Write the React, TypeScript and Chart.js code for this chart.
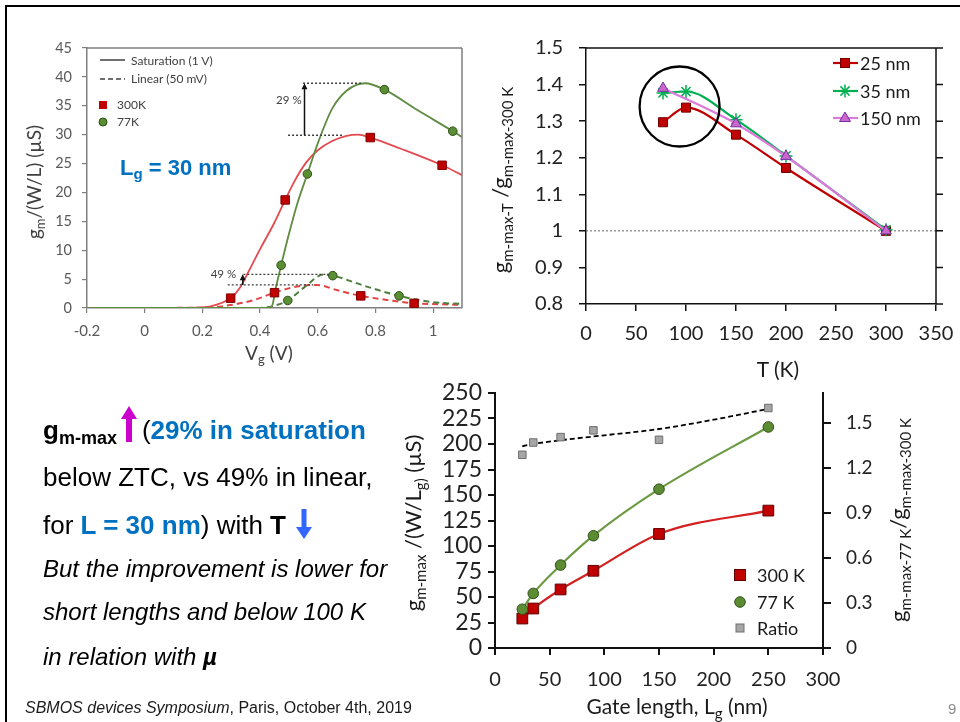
import React, { useEffect, useRef } from "react";
import { Chart, registerables } from "chart.js";

Chart.register(...registerables);
Chart.defaults.font.family = "Lato, 'Open Sans', sans-serif";

// ===== Panel A: gm/(W/L) vs Vg, Lg = 30 nm =====
const vgSat300 = [-0.2, 0.1, 0.2, 0.25, 0.3, 0.33, 0.36, 0.4, 0.45, 0.487, 0.52, 0.56, 0.6, 0.65, 0.7, 0.74, 0.782, 0.886, 1.031, 1.1];
const gmSat300 = [0, 0, 0.1, 0.6, 1.8, 3.5, 6.3, 10.2, 14.8, 18.7, 22.0, 25.2, 27.3, 28.9, 29.8, 30.0, 29.5, 27.6, 24.7, 23];
const vgSat77 = [-0.2, 0.42, 0.44, 0.455, 0.473, 0.5, 0.53, 0.564, 0.6, 0.65, 0.7, 0.764, 0.831, 0.944, 1.068, 1.1];
const gmSat77 = [0, 0, 0.2, 3.6, 7.4, 12.8, 18.2, 23.2, 28.5, 34.5, 37.6, 38.9, 37.8, 34.3, 30.6, 29.6];
const vgLin300 = [-0.2, 0.2, 0.296, 0.38, 0.45, 0.516, 0.597, 0.666, 0.749, 0.84, 0.934, 1.02, 1.1];
const gmLin300 = [0, 0.05, 0.5, 1.4, 2.65, 3.6, 4.0, 3.1, 2.1, 1.4, 0.8, 0.65, 0.55];
const vgLin77 = [-0.2, 0.39, 0.45, 0.496, 0.556, 0.62, 0.652, 0.77, 0.882, 1.0, 1.1];
const gmLin77 = [0, 0, 0.4, 1.3, 3.7, 5.8, 5.6, 3.7, 2.1, 1.0, 0.7];
const vgMark300 = [0.298, 0.487, 0.782, 1.031, 0.45, 0.749, 0.934];
const gmMark300 = [1.7, 18.7, 29.5, 24.7, 2.65, 2.1, 0.8];
const vgMark77 = [0.473, 0.564, 0.831, 1.068, 0.496, 0.652, 0.882];
const gmMark77 = [7.4, 23.2, 37.8, 30.6, 1.3, 5.6, 2.1];

// ===== Panel B: gm-max(T)/gm-max(300 K) vs T =====
const tempK = [77, 100, 150, 200, 300];
const ratio25 = [1.297, 1.337, 1.263, 1.172, 1.0];
const ratio35 = [1.377, 1.381, 1.304, 1.205, 1.003];
const temp150 = [77, 150, 200, 300];
const ratio150 = [1.39, 1.293, 1.204, 1.0];

// ===== Panel C: gm-max/(W/Lg) vs gate length =====
const gateLen = [25, 35, 60, 90, 150, 250];
const gm300 = [28.9, 38.7, 57.4, 75.7, 111.8, 134.7];
const gm77 = [38, 53.5, 81.3, 110.1, 155.7, 216.7];
const ratio77300 = [1.288, 1.37, 1.406, 1.451, 1.388, 1.6];
const trendLen = [25, 35, 60, 90, 150, 200, 250];
const trendRatio = [1.345, 1.36, 1.385, 1.41, 1.46, 1.522, 1.594];

const LATO = "Lato, 'Open Sans', sans-serif";
const ARIAL = "'Liberation Sans', Arial, sans-serif";
const BLUE = "#0070C0";

const pts = (xs: number[], ys: number[]) => xs.map((x, i) => ({ x, y: ys[i] }));
const fmt1 = (v: any) => String(Math.round(Number(v) * 10) / 10);
const fixW = (w: number) => (s: any) => { s.width = w; s.paddingTop = 0; s.paddingBottom = 0; s.paddingLeft = 0; s.paddingRight = 0; };
const fixH = (h: number) => (s: any) => { s.height = h; s.paddingTop = 0; s.paddingBottom = 0; s.paddingLeft = 0; s.paddingRight = 0; };

const framePlugin = {
  id: "frame",
  afterDatasetsDraw(chart: any, _a: any, o: any) {
    const { ctx, chartArea: a } = chart;
    ctx.save();
    ctx.strokeStyle = o.color;
    ctx.lineWidth = o.width;
    ctx.setLineDash([]);
    ctx.beginPath();
    if (o.top) { ctx.moveTo(a.left, a.top); ctx.lineTo(a.right, a.top); }
    if (o.right) { ctx.moveTo(a.right, a.top); ctx.lineTo(a.right, a.bottom); }
    if (o.rightTicks) {
      const ys = chart.scales.y;
      ys.ticks.forEach((t: any) => {
        const py = ys.getPixelForValue(t.value);
        ctx.moveTo(a.right, py);
        ctx.lineTo(a.right + o.rightTicks, py);
      });
    }
    ctx.stroke();
    ctx.restore();
  },
};

// annotation of the 29 % / 49 % gains (data units)
const gainMarks = [
  { lowV: 29.9, highV: 38.9, lowFrom: 0.497, lowTo: 0.688, highFrom: 0.549, highTo: 0.757, arrowVg: 0.554, text: "29 %", textVg: 0.544, textV: 35.9 },
  { lowV: 4.0, highV: 5.83, lowFrom: 0.288, lowTo: 0.585, highFrom: 0.342, highTo: 0.643, arrowVg: 0.34, text: "49 %", textVg: 0.317, textV: 5.9 },
];

const gainPlugin = {
  id: "gain",
  afterDatasetsDraw(chart: any) {
    const { ctx } = chart;
    const x = chart.scales.x, y = chart.scales.y;
    ctx.save();
    gainMarks.forEach((m) => {
      ctx.strokeStyle = "#404040";
      ctx.lineWidth = 1.3;
      ctx.setLineDash([2, 2]);
      ctx.beginPath();
      ctx.moveTo(x.getPixelForValue(m.lowFrom), y.getPixelForValue(m.lowV));
      ctx.lineTo(x.getPixelForValue(m.lowTo), y.getPixelForValue(m.lowV));
      ctx.moveTo(x.getPixelForValue(m.highFrom), y.getPixelForValue(m.highV));
      ctx.lineTo(x.getPixelForValue(m.highTo), y.getPixelForValue(m.highV));
      ctx.stroke();
      ctx.setLineDash([]);
      const ax = x.getPixelForValue(m.arrowVg);
      const y0 = y.getPixelForValue(m.lowV);
      const y1 = y.getPixelForValue(m.highV);
      ctx.strokeStyle = "#111";
      ctx.lineWidth = 1.5;
      ctx.beginPath();
      ctx.moveTo(ax, y0);
      ctx.lineTo(ax, y1 + 4);
      ctx.stroke();
      ctx.fillStyle = "#111";
      ctx.beginPath();
      ctx.moveTo(ax, y1);
      ctx.lineTo(ax - 3, y1 + 6);
      ctx.lineTo(ax + 3, y1 + 6);
      ctx.closePath();
      ctx.fill();
      ctx.font = "11.5px Lato";
      ctx.fillStyle = "#404040";
      ctx.textAlign = "right";
      ctx.textBaseline = "middle";
      ctx.fillText(m.text, x.getPixelForValue(m.textVg), y.getPixelForValue(m.textV));
    });
    ctx.restore();
  },
};

const refRatio = 1;
const highlight = { t: 93.6, r: 1.34, radius: 40 };

const ratioPlugin = {
  id: "ratioMarks",
  beforeDatasetsDraw(chart: any) {
    const { ctx, chartArea: a } = chart;
    const py = chart.scales.y.getPixelForValue(refRatio);
    ctx.save();
    ctx.strokeStyle = "#666";
    ctx.lineWidth = 1;
    ctx.setLineDash([2, 2]);
    ctx.beginPath();
    ctx.moveTo(a.left, py);
    ctx.lineTo(a.right, py);
    ctx.stroke();
    ctx.restore();
  },
  afterDatasetsDraw(chart: any) {
    const { ctx } = chart;
    const cx = chart.scales.x.getPixelForValue(highlight.t);
    const cy = chart.scales.y.getPixelForValue(highlight.r);
    ctx.save();
    ctx.strokeStyle = "#000";
    ctx.lineWidth = 2.3;
    ctx.beginPath();
    ctx.arc(cx, cy, highlight.radius, 0, Math.PI * 2);
    ctx.stroke();
    ctx.restore();
  },
};

const noPlug = { legend: { display: false }, tooltip: { enabled: false } };

function configA(): any {
  const line = { showLine: true, pointRadius: 0, tension: 0.4, cubicInterpolationMode: "monotone" };
  return {
    type: "scatter",
    data: {
      datasets: [
        { data: pts(vgMark77, gmMark77), showLine: false, pointStyle: "circle", pointRadius: 4.3, pointBackgroundColor: "#5A8E32", pointBorderColor: "#2E5018", pointBorderWidth: 1 },
        { data: pts(vgMark300, gmMark300), showLine: false, pointStyle: "rect", pointRadius: 6, pointBackgroundColor: "#C00000", pointBorderColor: "#800000", pointBorderWidth: 1 },
        { ...line, data: pts(vgSat77, gmSat77), borderColor: "#5E8C40", borderWidth: 1.8 },
        { ...line, data: pts(vgSat300, gmSat300), borderColor: "#E34A4F", borderWidth: 1.8 },
        { ...line, data: pts(vgLin77, gmLin77), borderColor: "#4E7E3C", borderWidth: 2, borderDash: [6, 4] },
        { ...line, data: pts(vgLin300, gmLin300), borderColor: "#E04545", borderWidth: 2, borderDash: [6, 4] },
      ],
    },
    options: {
      responsive: false,
      animation: false,
      layout: { padding: { top: 18, right: 13, left: 0, bottom: 0 } },
      plugins: { ...noPlug, frame: { color: "#7F7F7F", width: 1.5, top: true, right: true } },
      scales: {
        x: {
          type: "linear", min: -0.2, max: 1.1,
          afterFit: fixH(42),
          border: { color: "#7F7F7F", width: 1.5 },
          grid: { drawOnChartArea: false, tickLength: 5, color: "#7F7F7F", lineWidth: 1.2 },
          ticks: { stepSize: 0.2, includeBounds: false, color: "#595959", font: { size: 15 }, padding: 9, maxRotation: 0, autoSkip: false, callback: fmt1 },
        },
        y: {
          min: 0, max: 45,
          afterFit: fixW(77),
          border: { color: "#7F7F7F", width: 1.5 },
          grid: { drawOnChartArea: false, tickLength: 5, color: "#7F7F7F", lineWidth: 1.2 },
          ticks: { stepSize: 5, color: "#595959", font: { size: 14.5 }, padding: 10 },
        },
      },
    },
    plugins: [framePlugin, gainPlugin],
  };
}

function configB(): any {
  const base = { showLine: true, tension: 0.4, cubicInterpolationMode: "monotone", borderWidth: 2.2, pointBorderWidth: 1 };
  return {
    type: "scatter",
    data: {
      datasets: [
        { ...base, data: pts(temp150, ratio150), borderColor: "#DA7ADA", pointStyle: "triangle", pointRadius: 6.2, pointBackgroundColor: "#CC66CC", pointBorderColor: "#7030A0" },
        { ...base, data: pts(tempK, ratio35), borderColor: "#00B050", pointStyle: "star", pointRadius: 6.5, pointBackgroundColor: "#00B050", pointBorderColor: "#00B050", pointBorderWidth: 1.5 },
        { ...base, data: pts(tempK, ratio25), borderColor: "#C00000", pointStyle: "rect", pointRadius: 6.4, pointBackgroundColor: "#C00000", pointBorderColor: "#700000" },
      ],
    },
    options: {
      responsive: false,
      animation: false,
      layout: { padding: { top: 18, right: 20, left: 0, bottom: 0 } },
      plugins: { ...noPlug, frame: { color: "#111", width: 1.5, top: true, right: true, rightTicks: 7 } },
      scales: {
        x: {
          type: "linear", min: 0, max: 350,
          afterFit: fixH(56),
          border: { color: "#111", width: 1.5 },
          grid: { drawOnChartArea: false, tickLength: 7, color: "#111", lineWidth: 1.5 },
          ticks: { stepSize: 50, color: "#222", font: { size: 20 }, padding: 11, maxRotation: 0, autoSkip: false },
        },
        y: {
          min: 0.8, max: 1.5,
          afterFit: fixW(106),
          border: { color: "#111", width: 1.5 },
          grid: { drawOnChartArea: false, tickLength: 7, color: "#111", lineWidth: 1.5 },
          ticks: { stepSize: 0.1, color: "#222", font: { size: 20 }, padding: 16, callback: fmt1 },
        },
      },
    },
    plugins: [framePlugin, ratioPlugin],
  };
}

function configC(): any {
  const base = { showLine: true, tension: 0.4, cubicInterpolationMode: "monotone", borderWidth: 2.2, pointBorderWidth: 1 };
  return {
    type: "scatter",
    data: {
      datasets: [
        { data: pts(gateLen, ratio77300), yAxisID: "y2", showLine: false, pointStyle: "rect", pointRadius: 5.3, pointBackgroundColor: "#A6A6A6", pointBorderColor: "#6E6E6E", pointBorderWidth: 1 },
        { ...base, data: pts(gateLen, gm77), borderColor: "#6B9A42", pointStyle: "circle", pointRadius: 5.3, pointBackgroundColor: "#5B8C32", pointBorderColor: "#2F4F1A" },
        { ...base, data: pts(gateLen, gm300), borderColor: "#D42020", pointStyle: "rect", pointRadius: 7.6, pointBackgroundColor: "#C00000", pointBorderColor: "#600000" },
        { data: pts(trendLen, trendRatio), yAxisID: "y2", showLine: true, pointRadius: 0, tension: 0.4, cubicInterpolationMode: "monotone", borderColor: "#000", borderWidth: 1.8, borderDash: [5, 3] },
      ],
    },
    options: {
      responsive: false,
      animation: false,
      layout: { padding: { top: 13, right: 0, left: 0, bottom: 0 } },
      plugins: { ...noPlug },
      scales: {
        x: {
          type: "linear", min: 0, max: 300,
          afterFit: fixH(72),
          border: { color: "#111", width: 2 },
          grid: { drawOnChartArea: false, tickLength: 7, color: "#111", lineWidth: 2 },
          ticks: { stepSize: 50, color: "#222", font: { size: 20 }, padding: 13, maxRotation: 0, autoSkip: false },
        },
        y: {
          min: 0, max: 250,
          afterFit: fixW(100),
          border: { color: "#111", width: 2 },
          grid: { drawOnChartArea: false, tickLength: 7, color: "#111", lineWidth: 2 },
          ticks: { stepSize: 25, color: "#222", font: { size: 23 }, padding: 6, autoSkip: false },
        },
        y2: {
          position: "right", min: 0, max: 1.7,
          afterFit: fixW(92),
          border: { color: "#111", width: 2 },
          grid: { drawOnChartArea: false, tickLength: 8, color: "#111", lineWidth: 2 },
          ticks: { stepSize: 0.3, includeBounds: false, color: "#222", font: { size: 19 }, padding: 15, callback: (v: any) => (Number(v) === 0 ? "0" : Number(v).toFixed(1)) },
        },
      },
    },
  };
}

function ChartCanvas({ left, top, width, height, make }: any) {
  const ref = useRef<HTMLCanvasElement>(null);
  useEffect(() => {
    const c = new Chart(ref.current as HTMLCanvasElement, make());
    return () => c.destroy();
  }, []);
  return <canvas ref={ref} width={width} height={height} style={{ position: "absolute", left, top, width, height }} />;
}

function Rot({ x, y, size, color, children }: any) {
  return (
    <div style={{ position: "absolute", left: x, top: y, transform: "translate(-50%,-50%) rotate(-90deg)", whiteSpace: "nowrap", fontFamily: LATO, fontSize: size, color, lineHeight: 1 }}>
      {children}
    </div>
  );
}

function Ctr({ x, y, size, color, children }: any) {
  return (
    <div style={{ position: "absolute", left: x, top: y, transform: "translate(-50%,-50%)", whiteSpace: "nowrap", fontFamily: LATO, fontSize: size, color, lineHeight: 1 }}>
      {children}
    </div>
  );
}

function Lft({ x, y, size, color, children }: any) {
  return (
    <div style={{ position: "absolute", left: x, top: y, transform: "translateY(-50%)", whiteSpace: "nowrap", fontFamily: LATO, fontSize: size, color, lineHeight: 1 }}>
      {children}
    </div>
  );
}

const Sub = ({ size, drop, children }: any) => <span style={{ fontSize: size, verticalAlign: -drop }}>{children}</span>;

function ArrowSlot({ up, color, w, h, drop, ml, mr }: any) {
  const p = up
    ? `${w / 2},0 ${w},13 ${w / 2 + 3},13 ${w / 2 + 3},${h} ${w / 2 - 3},${h} ${w / 2 - 3},13 0,13`
    : `${w / 2 - 2.5},0 ${w / 2 + 2.5},0 ${w / 2 + 2.5},${h - 12} ${w},${h - 12} ${w / 2},${h} 0,${h - 12} ${w / 2 - 2.5},${h - 12}`;
  return (
    <span style={{ display: "inline-block", position: "relative", width: w, height: 0, marginLeft: ml, marginRight: mr }}>
      <svg width={w} height={h} style={{ position: "absolute", left: 0, bottom: -drop }}>
        <polygon points={p} fill={color} />
      </svg>
    </span>
  );
}

const textLine = (top: number, size: number, lh: number, extra: any = {}) => ({
  position: "absolute" as const, left: 43, top, fontFamily: ARIAL, fontSize: size, lineHeight: `${lh}px`, whiteSpace: "nowrap" as const, color: "#000", ...extra,
});

export default function App() {
  return (
    <div style={{ position: "fixed", left: 0, top: 0, width: 960, height: 722, background: "#fff", overflow: "hidden" }}>
      <div style={{ position: "absolute", left: 5, top: 5, width: 955, height: 2, background: "#000" }} />
      <div style={{ position: "absolute", left: 5, top: 5, width: 2, height: 717, background: "#000" }} />

      <ChartCanvas left={10} top={30} width={465} height={320} make={configA} />
      <ChartCanvas left={480} top={30} width={476} height={330} make={configB} />
      <ChartCanvas left={395} top={380} width={520} height={340} make={configC} />

      <svg width={960} height={722} style={{ position: "absolute", left: 0, top: 0, pointerEvents: "none" }}>
        {/* legend A */}
        <line x1={100} y1={60} x2={125} y2={60} stroke="#404040" strokeWidth={1.5} />
        <line x1={100} y1={79} x2={125} y2={79} stroke="#404040" strokeWidth={1.5} strokeDasharray="5,3" />
        <rect x={99} y={101} width={8} height={8} fill="#C00000" />
        <circle cx={103} cy={122} r={4} fill="#5A8E32" stroke="#2E5018" strokeWidth={1} />
        {/* legend B */}
        <line x1={833} y1={63} x2={858} y2={63} stroke="#C00000" strokeWidth={2.2} />
        <rect x={840.5} y={58.5} width={9} height={9} fill="#C00000" stroke="#700000" strokeWidth={1} />
        <line x1={833} y1={91} x2={858} y2={91} stroke="#00B050" strokeWidth={2.2} />
        <g stroke="#00B050" strokeWidth={1.5}>
          <line x1={838.5} y1={91} x2={851.5} y2={91} />
          <line x1={845} y1={84.5} x2={845} y2={97.5} />
          <line x1={840.4} y1={86.4} x2={849.6} y2={95.6} />
          <line x1={840.4} y1={95.6} x2={849.6} y2={86.4} />
        </g>
        <line x1={833} y1={118} x2={858} y2={118} stroke="#DA7ADA" strokeWidth={2.2} />
        <polygon points="845,112 850.5,121.5 839.5,121.5" fill="#CC66CC" stroke="#7030A0" strokeWidth={1} />
        {/* legend C */}
        <rect x={734.5} y={569.5} width={11} height={11} fill="#C00000" stroke="#600000" strokeWidth={1} />
        <circle cx={740} cy={602} r={5.3} fill="#5B8C32" stroke="#2F4F1A" strokeWidth={1} />
        <rect x={736} y={624} width={8} height={8} fill="#A6A6A6" stroke="#6E6E6E" strokeWidth={1} />
      </svg>

      {/* Panel A texts */}
      <Lft x={131} y={61} size={12} color="#404040">Saturation (1 V)</Lft>
      <Lft x={131} y={79} size={12} color="#404040">Linear (50 mV)</Lft>
      <Lft x={117} y={105} size={12} color="#404040">300K</Lft>
      <Lft x={117} y={122} size={12} color="#404040">77K</Lft>
      <div style={{ position: "absolute", left: 120, top: 155, fontFamily: ARIAL, fontSize: 22, lineHeight: "26px", fontWeight: "bold", color: BLUE, whiteSpace: "nowrap" }}>
        L<span style={{ fontSize: 15, verticalAlign: -4 }}>g</span> = 30 nm
      </div>
      <Rot x={35} y={182} size={19} color="#404040">
        g<Sub size={13} drop={4}>m</Sub>/(W/L) (µS)
      </Rot>
      <Ctr x={269} y={354} size={19} color="#404040">
        V<Sub size={13} drop={4}>g</Sub> (V)
      </Ctr>

      {/* Panel B texts */}
      <Lft x={860} y={63} size={18} color="#1a1a1a">25 nm</Lft>
      <Lft x={860} y={91} size={18} color="#1a1a1a">35 nm</Lft>
      <Lft x={860} y={118} size={18} color="#1a1a1a">150 nm</Lft>
      <Rot x={502} y={180} size={22} color="#1a1a1a">
        g<Sub size={15} drop={5}>m-max-T</Sub> /g<Sub size={15} drop={5}>m-max-300 K</Sub>
      </Rot>
      <Ctr x={778} y={368} size={21} color="#1a1a1a">T (K)</Ctr>

      {/* Panel C texts */}
      <Lft x={757} y={575} size={18} color="#1a1a1a">300 K</Lft>
      <Lft x={757} y={602} size={18} color="#1a1a1a">77 K</Lft>
      <Lft x={757} y={628} size={18} color="#1a1a1a">Ratio</Lft>
      <Rot x={415} y={523} size={22} color="#1a1a1a">
        g<Sub size={15} drop={5}>m-max</Sub> /(W/L<Sub size={15} drop={5}>g)</Sub> (µS)
      </Rot>
      <Rot x={900} y={520} size={22} color="#1a1a1a">
        g<Sub size={15} drop={5}>m-max-77 K</Sub>/g<Sub size={15} drop={5}>m-max-300 K</Sub>
      </Rot>
      <Ctr x={677} y={708} size={21} color="#1a1a1a">
        Gate length, L<Sub size={15} drop={5}>g</Sub> (nm)
      </Ctr>

      {/* Text block */}
      <div style={textLine(415, 26, 30)}>
        <b>g</b>
        <b style={{ fontSize: 18, verticalAlign: -5 }}>m-max</b>
        <ArrowSlot up color="#CC00CC" w={16} h={36} drop={3} ml={4} mr={5} />
        {"("}
        <b style={{ color: BLUE }}>29% in saturation</b>
      </div>
      <div style={textLine(462, 26, 30)}>below ZTC, vs 49% in linear,</div>
      <div style={textLine(510, 26, 30)}>
        {"for "}
        <b style={{ color: BLUE }}>L = 30 nm</b>
        {") with "}
        <b>T</b>
        <ArrowSlot color="#3366FF" w={16} h={30} drop={5} ml={10} mr={0} />
      </div>
      <div style={textLine(555, 24, 28, { fontStyle: "italic" })}>But the improvement is lower for</div>
      <div style={textLine(598, 24, 28, { fontStyle: "italic" })}>short lengths and below 100 K</div>
      <div style={textLine(643, 24, 28, { fontStyle: "italic" })}>
        {"in relation with "}
        <b>µ</b>
      </div>

      <div style={{ position: "absolute", left: 25, top: 699, fontFamily: ARIAL, fontSize: 16, lineHeight: "18px", color: "#1a1a1a", whiteSpace: "nowrap" }}>
        <i>SBMOS devices Symposium</i>, Paris, October 4th, 2019
      </div>
      <div style={{ position: "absolute", left: 948, top: 700, fontFamily: ARIAL, fontSize: 15, lineHeight: "17px", color: "#8c8c8c" }}>9</div>
    </div>
  );
}
